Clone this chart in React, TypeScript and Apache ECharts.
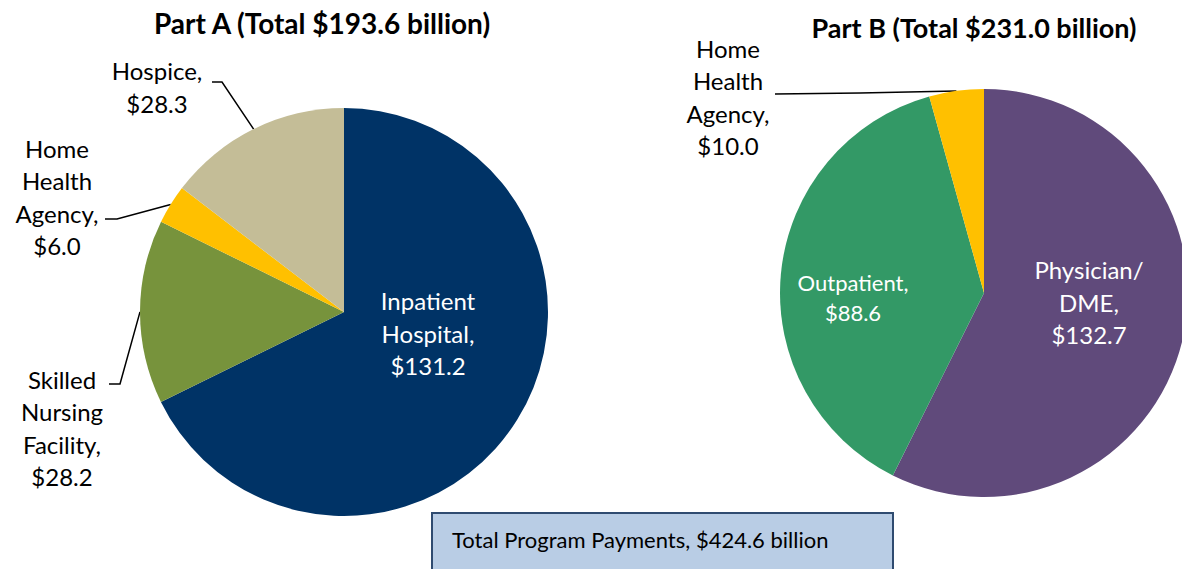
import React, { useEffect, useRef } from 'react';
import * as echarts from 'echarts';

// ---- data ----
const partATitle = 'Part A (Total $193.6 billion)';
const partANames = ['Inpatient\nHospital', 'Skilled\nNursing\nFacility', 'Home\nHealth\nAgency', 'Hospice'];
const partAValues = [131.2, 28.2, 6.0, 28.3];
const partAColors = ['#003366', '#77933C', '#FFC000', '#C4BD97'];

const partBTitle = 'Part B (Total $231.0 billion)';
const partBNames = ['Physician/\nDME', 'Outpatient', 'Home\nHealth\nAgency'];
const partBValues = [132.7, 88.6, 10.0];
const partBColors = ['#604A7B', '#339966', '#FFC000'];

const totalText = 'Total Program Payments, $424.6 billion';

// ---- layout (positions of labels, not data) ----
const FONT = 'Lato, "Open Sans", sans-serif';
const centerA = [344, 312];
const centerB = [984, 293];
const radius = 204;

// label centre [x, y], optional line bend/end points, inside flag
const layoutA: { pos: number[]; line?: number[][]; inside?: boolean }[] = [
  { pos: [428, 333], inside: true },
  { pos: [62, 428], line: [[120, 384], [109, 384]] },
  { pos: [57, 197], line: [[117, 219], [105, 219]] },
  { pos: [157, 87], line: [[222, 82], [212, 82]] },
];
const layoutB: { pos: number[]; line?: number[][]; inside?: boolean; small?: boolean }[] = [
  { pos: [1089, 302], inside: true },
  { pos: [853, 297], inside: true, small: true },
  { pos: [728, 97], line: [[860, 93], [775, 94]] },
];

function buildSeries(
  names: string[],
  values: number[],
  colors: string[],
  center: number[],
  layout: { pos: number[]; line?: number[][]; inside?: boolean; small?: boolean }[]
) {
  return {
    type: 'pie',
    center,
    radius,
    startAngle: 90,
    clockwise: true,
    avoidLabelOverlap: false,
    silent: true,
    itemStyle: { borderWidth: 0 },
    label: {
      show: true,
      position: 'outside',
      fontFamily: FONT,
      fontSize: 24,
      lineHeight: 32.5,
      color: '#000000',
      align: 'center',
      formatter: (p: any) => `${p.name},\n$${Number(p.value).toFixed(1)}`,
    },
    labelLine: {
      show: true,
      lineStyle: { color: '#000000', width: 1.5 },
    },
    labelLayout: (params: any) => {
      const l = layout[params.dataIndex];
      const res: any = {
        x: l.pos[0],
        y: l.pos[1],
        align: 'center',
        verticalAlign: 'middle',
      };
      if (l.line && params.labelLinePoints && params.labelLinePoints[0]) {
        res.labelLinePoints = [params.labelLinePoints[0], ...l.line];
      }
      return res;
    },
    data: names.map((n, i) => {
      const l = layout[i];
      const item: any = {
        name: n,
        value: values[i],
        itemStyle: { color: colors[i] },
      };
      if (l.inside) {
        item.label = {
          position: 'inside',
          color: '#FFFFFF',
          fontSize: l.small ? 22 : 24,
          lineHeight: l.small ? 30 : 32.5,
        };
        item.labelLine = { show: false };
      }
      return item;
    }),
  };
}

export default function App() {
  const ref = useRef<HTMLDivElement>(null);
  useEffect(() => {
    if (!ref.current) return;
    const chart = echarts.init(ref.current, null, { renderer: 'svg' });
    chart.setOption({
      animation: false,
      backgroundColor: '#FFFFFF',
      series: [
        buildSeries(partANames, partAValues, partAColors, centerA, layoutA),
        buildSeries(partBNames, partBValues, partBColors, centerB, layoutB),
      ],
      graphic: [
        {
          type: 'text',
          x: 322,
          y: 23,
          style: {
            text: partATitle,
            font: `bold 28px ${FONT}`,
            fill: '#000000',
            textAlign: 'center',
            textVerticalAlign: 'middle',
          },
        },
        {
          type: 'text',
          x: 974,
          y: 27,
          style: {
            text: partBTitle,
            font: `bold 27px ${FONT}`,
            fill: '#000000',
            textAlign: 'center',
            textVerticalAlign: 'middle',
          },
        },
        {
          type: 'rect',
          shape: { x: 432, y: 513, width: 461, height: 80 },
          style: { fill: '#B9CDE5', stroke: '#2F4B70', lineWidth: 2 },
        },
        {
          type: 'text',
          x: 452,
          y: 539,
          style: {
            text: totalText,
            font: `22px ${FONT}`,
            fill: '#000000',
            textAlign: 'left',
            textVerticalAlign: 'middle',
          },
        },
      ],
    });
    return () => chart.dispose();
  }, []);
  return (
    <div
      ref={ref}
      style={{ position: 'fixed', left: 0, top: 0, width: 1182, height: 569, background: '#fff' }}
    />
  );
}
